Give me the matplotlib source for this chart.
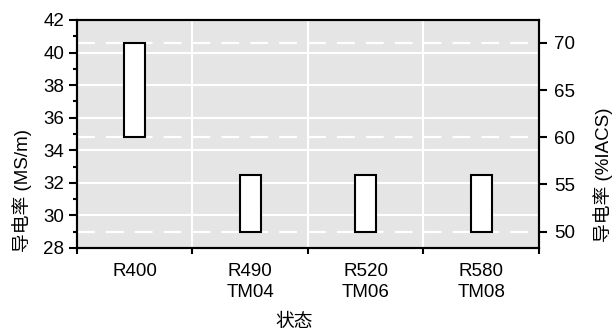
import matplotlib.pyplot as plt
import numpy as np

plt.rcParams['font.family'] = ['Liberation Sans', 'Noto Sans CJK SC']

# data
states = ["R400", "R490\nTM04", "R520\nTM06", "R580\nTM08"]
iacs_low = [60, 50, 50, 50]     # %IACS
iacs_high = [70, 56, 56, 56]
IACS_100 = 58.0  # MS/m for 100 %IACS

ms_low = np.array(iacs_low) * IACS_100 / 100
ms_high = np.array(iacs_high) * IACS_100 / 100

fs = 13.5

fig = plt.figure(figsize=(6.12, 3.31), dpi=100)
ax = fig.add_axes([0.1258, 0.2508, 0.7549, 0.6888])
ax.set_facecolor('#e5e5e5')

x = np.arange(len(states))
ax.set_xlim(-0.5, 3.5)
ax.set_ylim(28, 42)

# grid
for y in range(30, 42, 2):
    ax.axhline(y, color='white', lw=1.5, zorder=1)
for xb in [0.5, 1.5, 2.5]:
    ax.axvline(xb, color='white', lw=1.5, zorder=1)
for p in [50, 60, 70]:
    ax.axhline(p * IACS_100 / 100, color='white', lw=1.6, ls=(0, (8, 5)), zorder=1)

ax.bar(x, ms_high - ms_low, bottom=ms_low, width=0.18, color='white',
       edgecolor='black', linewidth=1.5, zorder=3)

ax.set_xticks(x)
ax.set_xticklabels(states, fontsize=fs, linespacing=1.3)
ax.set_xticks(np.arange(-0.5, 4, 1), minor=True)
ax.tick_params(axis='x', which='major', length=0, pad=11)
ax.tick_params(axis='x', which='minor', length=4.5, width=1.5, direction='out')

ax.set_yticks(np.arange(28, 43, 2))
ax.set_yticks(np.arange(29, 42, 2), minor=True)
ax.tick_params(axis='y', which='major', length=6, width=1.5, labelsize=fs, pad=3)
ax.tick_params(axis='y', which='minor', length=3, width=1.5)

for s in ax.spines.values():
    s.set_linewidth(1.5)

ax.set_ylabel("导电率 (MS/m)", fontsize=fs, va='center')
ax.yaxis.set_label_coords(-0.119, 0.25)
ax.set_xlabel("状态", fontsize=fs, va='center')
ax.xaxis.set_label_coords(0.47, -0.325)

ax2 = ax.twinx()
ax2.set_ylim(28 * 100 / IACS_100, 42 * 100 / IACS_100)
ax2.set_yticks([50, 55, 60, 65, 70])
ax2.tick_params(axis='y', length=6, width=1.5, labelsize=fs, pad=5)
for s in ax2.spines.values():
    s.set_linewidth(1.5)
ax2.set_ylabel("导电率 (%IACS)", fontsize=fs, va='center')
ax2.yaxis.set_label_coords(1.1385, 0.32)

fig.savefig("out.png", dpi=100)
